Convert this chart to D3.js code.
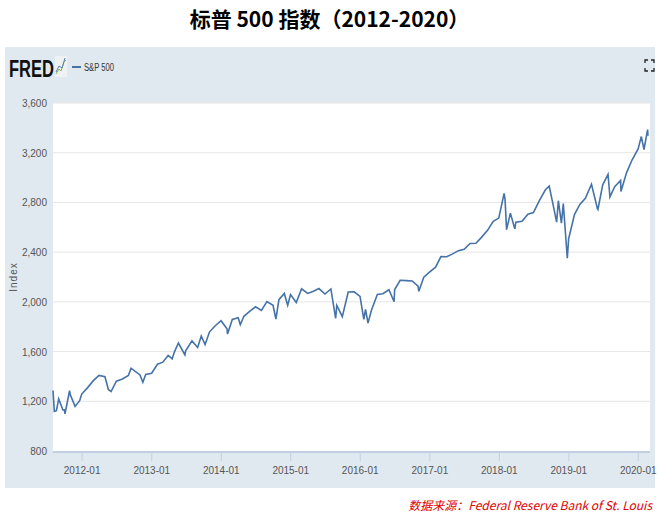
<!DOCTYPE html>
<html><head><meta charset="utf-8">
<script src="https://cdn.jsdelivr.net/npm/d3@7"></script>
<style>body{margin:0;background:#fff}</style>
</head><body>
<svg width="659" height="518"></svg>
<script>
var dates = ["2011-08-01","2011-08-08","2011-08-19","2011-08-31","2011-09-22","2011-09-30","2011-10-03","2011-10-27","2011-10-31","2011-11-25","2011-12-19","2011-12-30",
"2012-01-31","2012-02-29","2012-03-30","2012-04-30","2012-05-18","2012-06-01","2012-06-29","2012-07-31","2012-08-31","2012-09-14","2012-10-31","2012-11-15","2012-11-30","2012-12-31",
"2013-01-31","2013-02-28","2013-03-28","2013-04-18","2013-04-30","2013-05-21","2013-06-24","2013-06-28","2013-07-31","2013-08-30","2013-09-18","2013-10-08","2013-10-31","2013-11-29","2013-12-31",
"2014-01-31","2014-02-03","2014-02-28","2014-03-31","2014-04-11","2014-04-30","2014-05-30","2014-06-30","2014-07-31","2014-08-29","2014-09-30","2014-10-15","2014-10-31","2014-11-28","2014-12-16","2014-12-31",
"2015-01-30","2015-02-27","2015-03-31","2015-04-30","2015-05-29","2015-06-30","2015-07-31","2015-08-25","2015-08-31","2015-09-29","2015-10-30","2015-11-30","2015-12-31",
"2016-01-20","2016-01-29","2016-02-11","2016-02-29","2016-03-31","2016-04-29","2016-05-31","2016-06-27","2016-06-30","2016-07-29","2016-08-31","2016-09-30","2016-10-31","2016-11-04","2016-11-30","2016-12-30",
"2017-01-31","2017-02-28","2017-03-31","2017-04-28","2017-05-31","2017-06-30","2017-07-31","2017-08-31","2017-09-29","2017-10-31","2017-11-30","2017-12-29",
"2018-01-26","2018-01-31","2018-02-08","2018-02-28","2018-03-23","2018-03-29","2018-04-30","2018-05-31","2018-06-29","2018-07-31","2018-08-31","2018-09-20","2018-10-10","2018-10-29","2018-11-07","2018-11-23","2018-12-03","2018-12-24","2018-12-31",
"2019-01-31","2019-02-28","2019-03-29","2019-04-30","2019-05-31","2019-06-03","2019-06-28","2019-07-26","2019-08-05","2019-08-30","2019-09-30","2019-10-02","2019-10-31","2019-11-29","2019-12-31",
"2020-01-17","2020-01-31","2020-02-19","2020-02-21"];
var values = [1287,1119,1124,1219,1130,1131,1099,1285,1253,1159,1205,1258,
1312,1366,1408,1398,1295,1278,1362,1379,1407,1466,1412,1353,1416,1426,
1498,1515,1569,1541,1598,1669,1573,1606,1686,1633,1725,1656,1757,1806,1848,
1783,1741,1859,1872,1816,1884,1924,1960,1931,2003,1972,1862,2018,2068,1973,2059,
1995,2105,2068,2086,2107,2063,2104,1868,1972,1881,2079,2080,2044,
1859,1940,1829,1932,2060,2065,2097,2001,2099,2174,2171,2168,2126,2085,2199,2239,
2279,2364,2363,2384,2412,2423,2470,2472,2519,2575,2648,2674,
2873,2824,2581,2714,2588,2641,2648,2705,2718,2816,2902,2931,2785,2641,2814,2633,2790,2351,2507,
2704,2784,2834,2946,2752,2744,2942,3026,2844,2926,2977,2888,3038,3141,3231,
3330,3226,3386,3337];
var yTicks = [800,1200,1600,2000,2400,2800,3200,3600];
var xTickYears = [2012,2013,2014,2015,2016,2017,2018,2019,2020];

var parse = d3.timeParse("%Y-%m-%d");
var data = dates.map(function(d,i){ return {date: parse(d), value: values[i]}; });

var svg = d3.select("svg");
svg.append("text").attr("x",329.5).attr("y",27).attr("text-anchor","middle")
  .style("font-family","'Noto Sans CJK SC'").style("font-weight","bold").style("font-size","21px")
  .text("标普 500 指数（2012-2020）");

svg.append("rect").attr("x",5).attr("y",47).attr("width",650).attr("height",441).attr("fill","#e1e9f0");

var margin = {left:53, right:650, top:103, bottom:451};
var x = d3.scaleTime().domain([parse("2011-08-01"), parse("2020-02-21")]).range([margin.left, 648]);
var y = d3.scaleLinear().domain([800,3600]).range([margin.bottom, margin.top]);

svg.append("rect").attr("x",margin.left).attr("y",margin.top)
  .attr("width",margin.right-margin.left).attr("height",margin.bottom-margin.top).attr("fill","#fff");

var g = svg.append("g");
g.selectAll("line.grid").data(yTicks.slice(1)).enter().append("line")
  .attr("x1",margin.left).attr("x2",margin.right)
  .attr("y1",function(d){return y(d);}).attr("y2",function(d){return y(d);})
  .attr("stroke","#e6e6e6");
g.selectAll("text.yt").data(yTicks).enter().append("text")
  .attr("x",47).attr("y",function(d){return y(d)+4;}).attr("text-anchor","end")
  .style("font-family","'Liberation Sans Narrow',Arial").style("font-size","10px").attr("fill","#555")
  .text(function(d){return d3.format(",")(d);});

g.append("line").attr("x1",margin.left).attr("x2",margin.right).attr("y1",margin.bottom+1).attr("y2",margin.bottom+1)
  .attr("stroke","#c0d0e0").attr("stroke-width",2);
var xt = xTickYears.map(function(yv){ return new Date(yv,0,1); });
g.selectAll("line.xt").data(xt).enter().append("line")
  .attr("x1",function(d){return x(d);}).attr("x2",function(d){return x(d);})
  .attr("y1",margin.bottom+2).attr("y2",margin.bottom+10).attr("stroke","#c0d0e0");
g.selectAll("text.xl").data(xt).enter().append("text")
  .attr("x",function(d){return x(d);}).attr("y",474).attr("text-anchor","middle")
  .style("font-family","'Liberation Sans Narrow',Arial").style("font-size","10px").attr("fill","#555")
  .text(d3.timeFormat("%Y-%m"));

svg.append("text").attr("transform","translate(17,277) rotate(-90)").attr("text-anchor","middle")
  .style("font-family","Arial").style("font-size","10px").attr("fill","#555").style("letter-spacing","1px").text("Index");

var line = d3.line().x(function(d){return x(d.date);}).y(function(d){return y(d.value);});
svg.append("path").datum(data).attr("d",line).attr("fill","none").attr("stroke","#4572a7").attr("stroke-width",1.6);

// header
svg.append("text").attr("x",9).attr("y",77).style("font-family","Arial")
  .style("font-weight","bold").style("font-size","24px").attr("fill","#111")
  .attr("textLength",45).attr("lengthAdjust","spacingAndGlyphs").text("FRED");
svg.append("rect").attr("x",55).attr("y",56).attr("width",12).attr("height",21).attr("fill","#eef2f2");
svg.append("path").attr("d","M56,74 L59,69 L61,71 L64,62 L66,60").attr("fill","none").attr("stroke","#8ab04a").attr("stroke-width",1);
svg.append("path").attr("d","M56,72 L59,66 L62,68 L65,58").attr("fill","none").attr("stroke","#5a7fb0").attr("stroke-width",1);
svg.append("line").attr("x1",72).attr("x2",81).attr("y1",67).attr("y2",67).attr("stroke","#4572a7").attr("stroke-width",2);
svg.append("text").attr("x",84).attr("y",71).style("font-family","Arial").style("font-size","10px")
  .attr("fill","#333").attr("textLength",30).attr("lengthAdjust","spacingAndGlyphs").text("S&P 500");
svg.append("path").attr("d","M645,63 v-3 h3 M651,60 h3 v3 M654,68 v3 h-3 M648,71 h-3 v-3")
  .attr("fill","none").attr("stroke","#222").attr("stroke-width",1.3);

svg.append("text").attr("x",652).attr("y",510).attr("text-anchor","end")
  .style("font-family","'Noto Sans CJK SC'").style("font-style","italic").style("font-size","12px").attr("fill","#e00000")
  .text("数据来源：Federal Reserve Bank of St. Louis");
</script>
</body></html>
